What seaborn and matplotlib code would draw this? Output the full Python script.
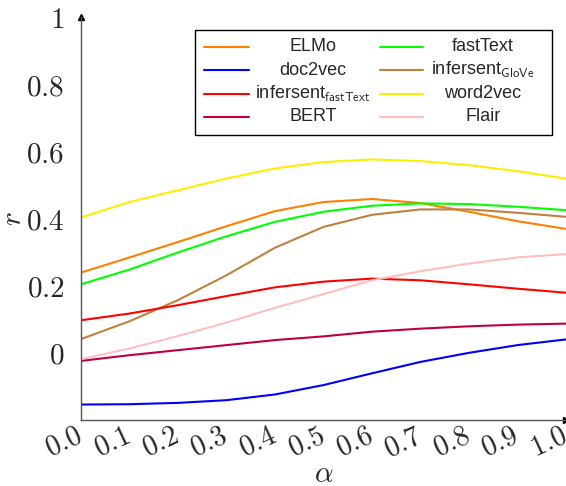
import matplotlib
matplotlib.use("Agg")
import matplotlib.pyplot as plt
from matplotlib.lines import Line2D
from matplotlib.patches import Rectangle
from matplotlib.transforms import ScaledTranslation
import pandas as pd
import seaborn as sns

# alpha grid and r values per model
alpha = [0.0, 0.1, 0.2, 0.3, 0.4, 0.5, 0.6, 0.7, 0.8, 0.9, 1.0]
elmo = [0.239, 0.284, 0.330, 0.377, 0.422, 0.449, 0.458, 0.446, 0.420, 0.392, 0.369]
fasttext = [0.204, 0.248, 0.299, 0.347, 0.390, 0.420, 0.438, 0.445, 0.443, 0.435, 0.425]
doc2vec = [-0.154, -0.153, -0.149, -0.141, -0.124, -0.096, -0.061, -0.027, 0.000, 0.023, 0.040]
infersent_glove = [0.041, 0.094, 0.157, 0.231, 0.313, 0.375, 0.411, 0.427, 0.427, 0.417, 0.405]
infersent_fasttext = [0.097, 0.117, 0.142, 0.169, 0.195, 0.212, 0.221, 0.216, 0.204, 0.191, 0.179]
word2vec = [0.403, 0.449, 0.484, 0.519, 0.549, 0.568, 0.576, 0.571, 0.559, 0.541, 0.519]
bert = [-0.024, -0.007, 0.008, 0.023, 0.038, 0.049, 0.063, 0.072, 0.079, 0.084, 0.087]
flair = [-0.019, 0.013, 0.050, 0.090, 0.134, 0.175, 0.216, 0.243, 0.266, 0.284, 0.294]

# drawing order = legend order (row by row, two columns)
models = ["ELMo", "fastText", "doc2vec", "infersent_GloVe",
          "infersent_fastText", "word2vec", "BERT", "Flair"]
labels = ["ELMo", "fastText", "doc2vec", r"infersent$_{\mathsf{GloVe}}$",
          r"infersent$_{\mathsf{fastText}}$", "word2vec", "BERT", "Flair"]
colors = ["#ff8000", "#00ff00", "#0000ff", "#bf8040",
          "#ff0000", "#ffee00", "#bf0040", "#ffbfbf"]
values = [elmo, fasttext, doc2vec, infersent_glove,
          infersent_fasttext, word2vec, bert, flair]

y_ticks = [0, 0.2, 0.4, 0.6, 0.8, 1.0]
y_ticklabels = ["0", "0.2", "0.4", "0.6", "0.8", "1"]

df = pd.DataFrame([
    {"alpha": a, "r": v, "model": m}
    for m, vals in zip(models, values)
    for a, v in zip(alpha, vals)
])

sns.set_style("white")
plt.rcParams["font.family"] = ["Liberation Sans", "DejaVu Sans"]
plt.rcParams["mathtext.fontset"] = "cm"

fig = plt.figure(figsize=(5.66, 4.86), dpi=100)
ax = fig.add_axes([81 / 566, 1 - 420 / 486, 485 / 566, 403 / 486])

sns.lineplot(data=df, x="alpha", y="r", hue="model", hue_order=models,
             palette=dict(zip(models, colors)), linewidth=1.5,
             legend=False, ax=ax)

ax.set_xlim(0, 1)
ax.set_ylim(-0.2, 1)

axis_col = "#555555"
for side in ["top", "right"]:
    ax.spines[side].set_visible(False)
for side in ["left", "bottom"]:
    ax.spines[side].set_color(axis_col)
    ax.spines[side].set_linewidth(1.0)

ax.set_yticks(y_ticks)
ax.set_yticklabels([f"${t}$" for t in y_ticklabels], fontsize=21)
ax.tick_params(axis="both", direction="inout", length=10, width=0.8,
               color="#888888")
ax.tick_params(axis="y", pad=7)
ax.tick_params(axis="x", pad=3)

ax.set_xticks(alpha)
ax.set_xticklabels([f"${a:.1f}$" for a in alpha], fontsize=20.5,
                   rotation=25, ha="right", va="top", rotation_mode="anchor")
# nudge rotated labels up-left (after tick_params, which resets transforms)
shift = ScaledTranslation(-6 / 100, 8 / 100, fig.dpi_scale_trans)
for lab in ax.get_xticklabels():
    lab.set_transform(lab.get_transform() + shift)

ax.set_xlabel(r"$\alpha$", fontsize=21)
ax.xaxis.set_label_coords(0.5, -0.10)
ax.set_ylabel(r"$r$", fontsize=21)
ax.yaxis.set_label_coords(-0.112, 0.5)

# axis arrows
ax.plot(1, 0, ">", color="black", markersize=5, transform=ax.transAxes, clip_on=False)
ax.plot(0, 1, "^", color="black", markersize=5, transform=ax.transAxes, clip_on=False)

# legend box, two columns, centred text
x0, x1, y_bot, y_top = 0.235, 0.971, 0.707, 0.968
ax.add_patch(Rectangle((x0, y_bot), x1 - x0, y_top - y_bot, transform=ax.transAxes,
                       facecolor="white", edgecolor="black", linewidth=1.0, zorder=5))
rows = [0.926, 0.868, 0.809, 0.752]
cols = [(0.254, 0.346, 0.478), (0.616, 0.705, 0.829)]
for i, (lab, col) in enumerate(zip(labels, colors)):
    lx0, lx1, tx = cols[i % 2]
    ry = rows[i // 2]
    ax.add_line(Line2D([lx0, lx1], [ry, ry], color=col, linewidth=1.5,
                       transform=ax.transAxes, zorder=6))
    ax.text(tx, ry, lab, transform=ax.transAxes, fontsize=13,
            ha="center", va="center", zorder=6)

fig.savefig("out.png", dpi=100)
